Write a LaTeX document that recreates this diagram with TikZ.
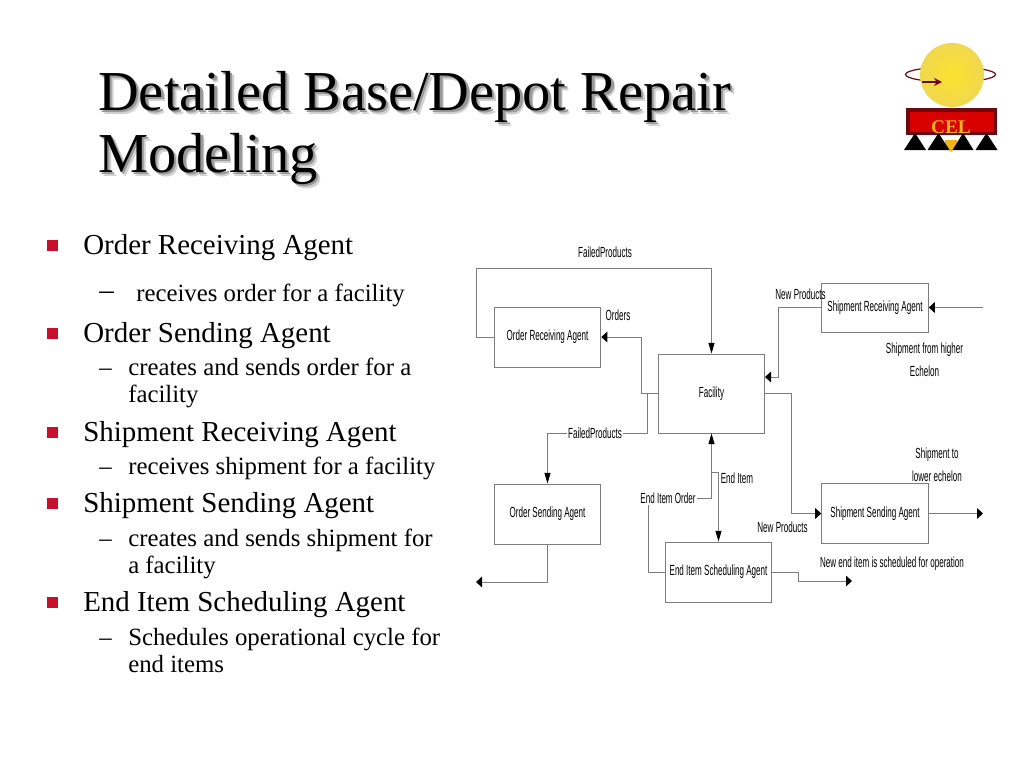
\documentclass[tikz,border=0pt]{standalone}
\usepackage{fontspec}
\setmainfont{Liberation Serif}
\newfontfamily\diagfont[FakeStretch=0.55]{Liberation Sans}
\usetikzlibrary{arrows.meta,calc}
\definecolor{celred}{RGB}{200,16,46}
\definecolor{celgold}{RGB}{240,180,20}
\definecolor{celdark}{RGB}{110,10,15}
\definecolor{linegray}{RGB}{125,125,125}
\definecolor{sunmid}{RGB}{252,226,45}
\definecolor{sunrim}{RGB}{240,216,80}
\tikzset{
  agentbox/.style={draw=linegray,line width=0.7pt,minimum width=80pt,inner sep=0pt,font=\diagfont\fontsize{11}{13}\selectfont},
  tag/.style={font=\diagfont\fontsize{11}{13}\selectfont,inner sep=1pt,align=center},
  link/.style={draw=linegray,line width=0.7pt},
  tiph/.style={link,-{Triangle[length=4.5pt,width=8pt,black]}},
  tipv/.style={link,-{Triangle[length=8pt,width=4.5pt,black]}},
  headline/.style={anchor=base west,inner sep=0pt,font=\fontsize{42.3}{46}\selectfont},
  lvlone/.style={anchor=base west,inner sep=0pt,font=\fontsize{21.7}{24}\selectfont},
  lvltwo/.style={anchor=base west,inner sep=0pt,font=\fontsize{18.6}{21}\selectfont}
}
\begin{document}
\begin{tikzpicture}[x=0.75pt,y=-0.75pt]
  \useasboundingbox (0,0) rectangle (1024,768);

  \foreach \y/\nm/\lab in {110/one/{Detailed Base/Depot Repair},172/two/{Modeling}}{
    \node[headline,text=black!18] (blur\nm) at (102,\y+4) {\lab};
    \node[headline,text=black!40] (shadow\nm) at (100.5,\y+2.5) {\lab};
    \node[headline] (title\nm) at (98,\y) {\lab};
  }

  \foreach \y/\nm/\lab in {254/a/{Order Receiving Agent},342/b/{Order Sending Agent},441/c/{Shipment Receiving Agent},512/d/{Shipment Sending Agent},611/e/{End Item Scheduling Agent}}{
    \fill[celred] (46.5,\y-14) rectangle ++(11,11);
    \node[lvlone] (item\nm) at (83,\y) {\lab};
  }
  \node[lvlone] (dashone) at (99,299) {--};
  \node[lvltwo] (subone) at (136,301) {receives order for a facility};
  \foreach \y/\nm in {375/b,474/c,546/d,645/e}{
    \node[lvltwo] (dash\nm) at (99,\y) {--};
  }
  \foreach \y/\nm/\lab in {375/b/{creates and sends order for a},402/bb/{facility},474/c/{receives shipment for a facility},546/d/{creates and sends shipment for},573/dd/{a facility},645/e/{Schedules operational cycle for},672/ee/{end items}}{
    \node[lvltwo] (line\nm) at (128,\y) {\lab};
  }

  \foreach \x/\y/\h/\nm/\lab in {547.5/337/45/orders/{Order Receiving Agent},711.5/393.5/59.25/facility/{Facility},875/307.5/36.75/shiprecv/{Shipment Receiving Agent},547.5/514/45/ordersend/{Order Sending Agent},718.5/572/45/scheduling/{End Item Scheduling Agent},875/513.5/45/shipsend/{Shipment Sending Agent}}{
    \node[agentbox,minimum height=\h pt] (\nm) at (\x,\y) {\lab};
  }

  \coordinate (farin) at (983,307.5);
  \coordinate (farout) at (983,513.5);
  \coordinate (lost) at (476,582);
  \coordinate (newend) at (852,581);
  \coordinate (facin) at (765,377);
  \coordinate (split) at (647,393.5);
  \coordinate (enditem) at (711.5,472);

  \draw[tipv] (orders.west) -- (476,337) -- (476,268) -| (facility.north);
  \draw[tiph] (facility.west) -| (641,337) -- (orders.east);
  \draw[tipv] (split) |- (ordersend.north |- 0,433) -- (ordersend.north);
  \draw[tiph] (shiprecv.west) -| (778,377) -- (facin);
  \draw[tiph] (farin) -- (shiprecv.east);
  \draw[tiph] (facility.east) -| (791,513.5) -- (shipsend.west);
  \draw[tiph] (shipsend.east) -- (farout);
  \draw[tiph] (ordersend.south) |- (lost);
  \draw[tipv] (scheduling.west) -| (648,498) -- (711.5,498) -- (facility.south);
  \draw[tipv] (enditem) -| (scheduling.north);
  \draw[tiph] (scheduling.east) -| (798,581) -- (newend);

  \node[tag,fill=white] (failedlow) at (595,433) {FailedProducts};
  \node[tag,fill=white] (enditemorder) at (668,498) {End Item Order};
  \node[tag] (failedtop) at (605,252) {FailedProducts};
  \node[tag] (orderslab) at (618,315) {Orders};
  \node[tag] (newtop) at (800.5,294) {New Products};
  \node[tag] (higher) at (924.5,350) {Shipment from higher};
  \node[tag] (echelon) at (924.5,371) {Echelon};
  \node[tag] (shipto) at (937,455) {Shipment to};
  \node[tag] (lower) at (937,476) {lower echelon};
  \node[tag] (enditemlab) at (737,478) {End Item};
  \node[tag] (newlow) at (782.5,527) {New Products};
  \node[tag] (scheduled) at (892,564) {New end item is scheduled for operation};

  \draw[celdark,line width=0.9pt] (950.5,74.5) ellipse (45 and 7.5);
  \shade[inner color=sunmid,outer color=sunrim] (952,75) circle (32);
  \draw[celdark,line width=1.4pt,-{Stealth[length=6pt,width=6pt]}] (922,82) -- (942,82);
  \fill[celgold] (945,140) -- (957,140) -- (957,146) -- (951,152) -- (945,146) -- cycle;
  \fill[celdark] (906,108) rectangle (997,135);
  \fill[red!85!black] (910,112) rectangle (994,132);
  \node[inner sep=0pt,text=celgold,font=\bfseries\fontsize{14.5}{15}\selectfont] (cel) at (951,127) {CEL};
  \foreach \x/\w in {915/11,938.5/11,963/10.5,986.5/11}{
    \fill[black] (\x-\w,150) -- (\x,133) -- (\x+\w,150) -- cycle;
  }
\end{tikzpicture}
\end{document}
